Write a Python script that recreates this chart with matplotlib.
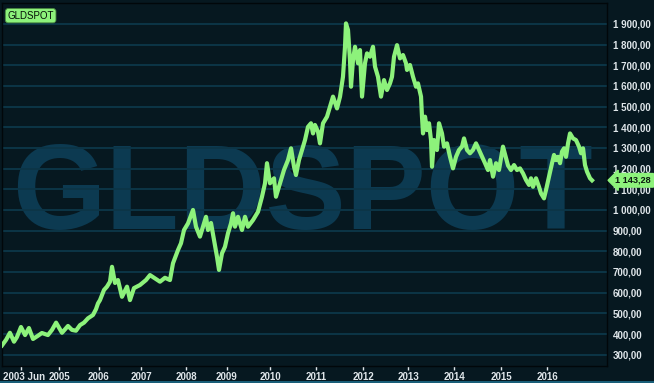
import numpy as np
import matplotlib
matplotlib.use("Agg")
import matplotlib.pyplot as plt
from matplotlib.lines import Line2D
from matplotlib.transforms import ScaledTranslation

# gold spot price (decimal year, USD/oz)
years = [2002.63, 2002.80, 2002.96, 2003.13, 2003.25, 2003.42, 2003.59, 2003.75, 2003.92, 2004.13,
         2004.29, 2004.54, 2004.71, 2004.88, 2005.075, 2005.225, 2005.325, 2005.425, 2005.525, 2005.625,
         2005.725, 2005.85, 2005.925, 2005.975, 2006.024, 2006.119, 2006.19, 2006.262, 2006.31, 2006.381,
         2006.452, 2006.548, 2006.667, 2006.738, 2006.833, 2006.976, 2007.111, 2007.2, 2007.311, 2007.422,
         2007.533, 2007.644, 2007.711, 2007.822, 2007.889, 2007.956, 2008.049, 2008.171, 2008.244, 2008.341,
         2008.415, 2008.488, 2008.537, 2008.61, 2008.683, 2008.756, 2008.805, 2008.878, 2008.951, 2009.023,
         2009.093, 2009.14, 2009.186, 2009.256, 2009.349, 2009.419, 2009.488, 2009.605, 2009.721, 2009.814,
         2009.884, 2009.93, 2010.0, 2010.087, 2010.13, 2010.217, 2010.304, 2010.391, 2010.457, 2010.522,
         2010.565, 2010.63, 2010.696, 2010.761, 2010.826, 2010.891, 2010.935, 2010.978, 2011.043, 2011.085,
         2011.149, 2011.234, 2011.298, 2011.362, 2011.447, 2011.511, 2011.574, 2011.617, 2011.638, 2011.681,
         2011.723, 2011.745, 2011.787, 2011.83, 2011.894, 2011.936, 2011.979, 2012.044, 2012.089, 2012.156,
         2012.222, 2012.267, 2012.333, 2012.4, 2012.467, 2012.533, 2012.6, 2012.644, 2012.689, 2012.756,
         2012.822, 2012.889, 2012.956, 2012.978, 2013.043, 2013.109, 2013.174, 2013.217, 2013.283, 2013.304,
         2013.326, 2013.37, 2013.413, 2013.457, 2013.5, 2013.522, 2013.565, 2013.63, 2013.674, 2013.739,
         2013.783, 2013.848, 2013.913, 2013.978, 2014.043, 2014.106, 2014.17, 2014.213, 2014.277, 2014.34,
         2014.404, 2014.468, 2014.532, 2014.596, 2014.66, 2014.723, 2014.766, 2014.83, 2014.894, 2014.957,
         2015.043, 2015.109, 2015.152, 2015.217, 2015.283, 2015.348, 2015.413, 2015.478, 2015.543, 2015.609,
         2015.652, 2015.696, 2015.761, 2015.826, 2015.87, 2015.935, 2015.978, 2016.043, 2016.109, 2016.152,
         2016.196, 2016.239, 2016.283, 2016.326, 2016.37, 2016.413, 2016.457, 2016.5, 2016.565, 2016.63,
         2016.696, 2016.739, 2016.783, 2016.826, 2016.87, 2016.935, 2016.978]
prices = [345, 372, 406, 363, 385, 434, 395, 429, 376, 392,
          405, 395, 420, 455, 406, 439, 420, 416, 443, 455,
          476, 492, 520, 548, 564, 613, 629, 653, 725, 647,
          661, 580, 629, 564, 622, 637, 661, 685, 669, 653,
          672, 661, 742, 806, 839, 903, 935, 1000, 919, 871,
          919, 967, 903, 937, 855, 774, 710, 790, 822, 887,
          935, 984, 919, 967, 903, 967, 919, 951, 991, 1064,
          1129, 1226, 1129, 1153, 1064, 1129, 1193, 1241, 1298, 1209,
          1169, 1241, 1290, 1338, 1402, 1419, 1370, 1411, 1378, 1322,
          1419, 1451, 1499, 1548, 1491, 1548, 1644, 1789, 1902, 1870,
          1725, 1596, 1725, 1789, 1709, 1773, 1548, 1709, 1757, 1741,
          1789, 1693, 1644, 1548, 1628, 1580, 1612, 1644, 1741, 1797,
          1733, 1749, 1709, 1677, 1701, 1644, 1596, 1612, 1548, 1451,
          1370, 1451, 1386, 1419, 1338, 1209, 1338, 1290, 1419, 1370,
          1306, 1322, 1257, 1201, 1257, 1290, 1306, 1346, 1290, 1274,
          1290, 1322, 1290, 1257, 1226, 1193, 1241, 1161, 1226, 1193,
          1306, 1250, 1215, 1193, 1217, 1193, 1201, 1177, 1145, 1121,
          1153, 1112, 1153, 1112, 1080, 1056, 1096, 1161, 1226, 1266,
          1241, 1257, 1226, 1282, 1298, 1257, 1322, 1370, 1346, 1338,
          1306, 1274, 1298, 1217, 1185, 1153, 1143.28]
last_label = "1 143,28"
symbol = "GLDSPOT"

tick_years = [2003.42, 2005, 2006, 2007, 2008, 2009, 2010, 2011, 2012, 2013, 2014, 2015, 2016]
tick_labels = ["2003 Jun", "2005", "2006", "2007", "2008", "2009", "2010", "2011",
               "2012", "2013", "2014", "2015", "2016"]
y_ticks = [300, 400, 500, 600, 700, 800, 900, 1000, 1100, 1200, 1300, 1400, 1500, 1600, 1700, 1800, 1900]
y_labels = ["300,00", "400,00", "500,00", "600,00", "700,00", "800,00", "900,00", "1 000,00",
            "1 100,00", "1 200,00", "1 300,00", "1 400,00", "1 500,00", "1 600,00", "1 700,00",
            "1 800,00", "1 900,00"]

# the time axis of the original is bar based, not linear in time
scale_years = [2002.5, 2003.42, 2005, 2006, 2007, 2008, 2009, 2010, 2011, 2012, 2013, 2014, 2015, 2016, 2018]
scale_pos = [-1.1, 21, 59, 99, 141, 186, 227, 270, 316, 363, 408, 454, 501, 547, 639]

bg = "#061820"
grid_c = "#0c3547"
mark_c = "#0c3a51"
green = "#8df27b"
txt = "#dfe6ea"

def fwd(x):
    return np.interp(x, scale_years, scale_pos)

def inv(p):
    return np.interp(p, scale_pos, scale_years)

fig = plt.figure(figsize=(6.54, 3.83), dpi=100, facecolor=bg)
ax = fig.add_axes([2/654, 1 - 366/383, 605/654, 363/383])
ax.set_facecolor(bg)
ax.set_xscale("function", functions=(fwd, inv))
ax.set_xlim(2002.63, 2017.304)
ax.set_ylim(245.4, 2000.7)

ax.text(0.497, 0.378, symbol, transform=ax.transAxes, ha="center", va="baseline",
        fontsize=86.5, fontweight="bold", family="Liberation Sans", color=mark_c, zorder=0)

ax.set_yticks(y_ticks)
ax.set_yticklabels(y_labels)
ax.yaxis.tick_right()
ax.tick_params(axis="y", length=0, pad=4, labelsize=7, labelcolor=txt)
ax.grid(axis="y", color=grid_c, linewidth=1.4, zorder=1)
ax.set_axisbelow(True)

ax.set_xticks(tick_years)
ax.set_xticklabels(tick_labels)
ax.xaxis.set_minor_locator(matplotlib.ticker.NullLocator())
ax.tick_params(axis="x", length=3, width=1, color=txt, pad=1.5, labelsize=7, labelcolor=txt)
for lab in ax.get_xticklabels() + ax.get_yticklabels():
    lab.set_fontweight("bold")
    lab.set_family("Liberation Sans")
first = ax.get_xticklabels()[0]
first.set_transform(first.get_transform() + ScaledTranslation(3/100, 0, fig.dpi_scale_trans))

for sp in ax.spines.values():
    sp.set_color("#01070a")
    sp.set_linewidth(1)

ax.plot(years, prices, color=green, linewidth=3, solid_joinstyle="round", zorder=3)

# last price tag on the right axis
ax.text(1.014, prices[-1], last_label, transform=ax.get_yaxis_transform(), ha="left", va="center",
        fontsize=6.6, fontweight="bold", family="Liberation Sans", color="#0a1a10",
        bbox=dict(boxstyle="larrow,pad=0.25", fc=green, ec=green), clip_on=False, zorder=5)

# symbol label top left
ax.text(0.009, 0.965, symbol, transform=ax.transAxes, ha="left", va="center", fontsize=7,
        family="Liberation Sans", color="#061008",
        bbox=dict(boxstyle="round,pad=0.22,rounding_size=0.3", fc=green, ec="#4a8a40", lw=0.6), zorder=5)

fig.add_artist(Line2D([0, 1], [1.5/383, 1.5/383], transform=fig.transFigure, color="#1d6d8a", lw=1.2))

fig.savefig("out.png", dpi=100, facecolor=bg)
